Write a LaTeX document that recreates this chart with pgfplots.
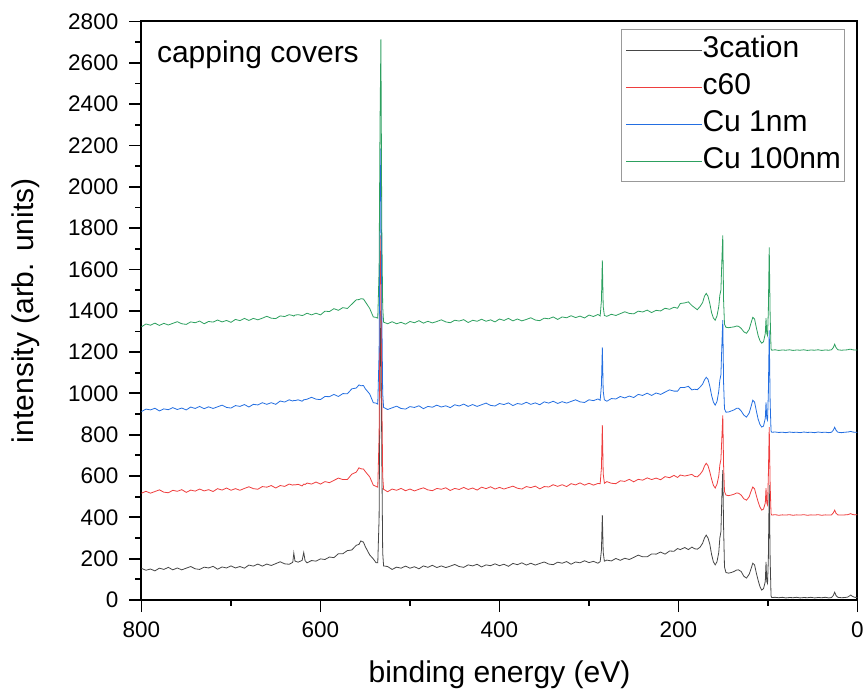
\documentclass[border=0pt]{standalone}
\usepackage{fontspec}
\setmainfont{Liberation Sans}
\usepackage{pgfplots}
\usepackage{pgfplotstable}
\pgfplotsset{compat=1.18}
\definecolor{cA}{RGB}{70,70,70}
\definecolor{cB}{RGB}{238,62,62}
\definecolor{cC}{RGB}{35,110,225}
\definecolor{cD}{RGB}{45,160,95}
\pgfplotstableread{
x b r bl g
800 153 517 912 1322
795 144 526 924 1336
790 150 517 920 1330
785 141 525 928 1340
780 154 533 915 1329
775 148 522 925 1339
770 158 519 921 1331
765 146 531 931 1339
760 155 526 922 1347
755 146 534 929 1337
750 154 521 920 1334
745 162 532 934 1346
740 151 527 927 1342
735 148 537 937 1350
730 159 528 926 1337
725 155 534 935 1348
720 163 525 927 1345
715 149 539 935 1355
710 160 532 943 1346
705 155 542 932 1353
700 165 531 929 1344
695 155 539 941 1358
690 162 531 937 1352
685 154 540 946 1363
680 169 548 934 1353
675 164 539 947 1363
670 174 536 944 1356
665 164 549 955 1364
660 174 546 947 1373
655 167 554 955 1364
650 176 542 947 1362
645 185 554 963 1375
640 175 550 958 1372
635 173 561 969 1381
631 182 556 963 1377
629.8 227 558 966 1374
628.5 188 557 965 1379
625 183 560 969 1381
620.5 192 552 962 1377
618.7 230 561 969 1379
617.2 190 559 970 1383
615 180 566 972 1388
610 191 561 981 1380
605 188 571 972 1388
600 199 561 970 1380
595 196 573 985 1398
590 208 568 984 1396
585 205 579 995 1410
580 224 590 985 1402
575 224 583 999 1415
570 239 583 998 1411
565 242 609 1022 1432
560 265 619 1026 1453
557 269 640 1041 1454
555 286 635 1037 1458
552 280 634 1038 1457
550 259 622 1023 1444
545 218 596 997 1411
541 199 556 955 1370
538 181 550 953 1368
536 180 546 948 1364
534.5 400 800 1200 1600
533.5 1100 1500 1900 2300
532.5 1400 1765 2186 2713
531.5 700 1000 1400 1800
530.5 230 600 1000 1420
529.5 165 536 932 1345
525 162 524 922 1337
520 148 537 930 1347
515 159 531 938 1337
510 154 540 927 1344
505 164 529 924 1335
500 154 537 936 1348
495 161 528 932 1342
490 151 536 940 1352
485 165 543 926 1340
480 158 533 937 1349
475 168 529 933 1341
470 157 540 943 1348
465 165 536 934 1356
460 157 543 940 1346
455 164 530 931 1342
450 172 540 945 1354
445 162 535 939 1350
440 158 545 948 1357
435 170 535 937 1343
430 165 542 946 1354
425 173 532 937 1349
420 160 546 945 1359
415 170 539 953 1349
410 166 548 942 1356
405 175 537 939 1346
400 166 545 951 1360
395 173 537 946 1353
390 163 544 954 1363
385 177 551 941 1351
380 171 541 951 1360
375 180 537 947 1351
370 169 549 957 1358
365 178 544 947 1366
360 169 551 954 1355
355 177 538 945 1352
350 184 549 959 1364
345 174 547 953 1361
340 171 558 962 1370
335 183 550 951 1358
330 178 558 960 1370
325 186 549 953 1366
320 173 563 961 1376
315 184 557 969 1367
310 180 567 959 1374
305 190 556 956 1365
300 181 565 969 1379
295 187 556 965 1372
290 178 564 973 1382
287.5 186 563 967 1375
286.1 240 640 1040 1450
285.1 411 846 1223 1644
284.1 230 610 1010 1420
282.8 188 565 969 1377
280 193 573 962 1373
275 189 565 975 1383
270 201 563 973 1377
265 192 577 985 1386
260 202 574 978 1395
255 196 584 987 1387
250 206 572 980 1385
245 217 584 995 1398
240 209 580 990 1394
235 209 591 1001 1403
230 223 583 990 1391
225 222 590 1002 1402
220 232 582 995 1399
215 222 597 1006 1412
210 237 592 1017 1407
205 236 603 1011 1417
201 249 593 1011 1412
198 244 605 1028 1435
193 254 600 1029 1438
189 244 604 1034 1443
185 256 608 1017 1425
182 248 598 1020 1415
179 246 596 1018 1405
176 255 608 1030 1420
173 275 625 1045 1440
171 300 648 1065 1470
169 314 662 1078 1484
167 300 650 1068 1470
165 270 620 1035 1435
163 220 585 990 1390
161 185 555 958 1365
159 170 542 943 1354
157 185 560 960 1375
155 230 600 1010 1420
153.8 300 653 1064 1475
152.6 330 680 1090 1500
151.4 520 800 1250 1660
150.5 628 894 1354 1765
149.6 350 650 1050 1450
148.6 160 525 925 1335
147 133 508 909 1320
144 130 505 910 1318
141 133 508 915 1320
138 138 512 920 1322
135 145 518 928 1326
133 146 517 928 1325
130 138 508 915 1315
127 115 490 895 1298
124 106 483 885 1291
121 125 500 905 1310
119 150 525 935 1340
117 178 547 967 1368
115 170 538 958 1360
113 130 505 915 1318
111 95 475 875 1280
109 65 450 850 1255
107 48 435 837 1243
105 55 440 842 1250
103 90 470 880 1290
102.2 184 541 957 1364
101.4 90 470 880 1290
100.5 80 460 870 1280
99.6 200 600 1000 1400
98.6 556 837 1305 1707
97.6 200 560 960 1380
96.6 20 418 818 1215
95.8 12 411 812 1209
92 13 413 813 1211
88 11 410 811 1208
84 13 412 812 1210
80 10 411 810 1209
76 12 413 813 1211
72 11 410 811 1208
68 13 412 812 1210
64 10 411 810 1209
60 12 413 813 1211
56 11 410 811 1208
52 13 412 812 1210
48 10 411 810 1209
44 12 413 813 1211
40 11 410 811 1208
36 13 412 812 1210
32 10 411 810 1209
29 12 412 812 1211
27 22 422 822 1222
25.5 38 435 836 1238
24 22 420 822 1222
22 13 412 812 1211
18 11 411 810 1209
14 12 412 812 1210
11 14 413 813 1211
9.5 18 415 814 1213
7.5 24 418 816 1214
5.5 17 414 813 1211
3 13 412 812 1210
0 12 413 812 1210
}\spectra
\begin{document}
\begin{tikzpicture}
\path[use as bounding box] (-141.5pt,-92pt) rectangle (722.5pt,600pt);
\begin{axis}[
  scale only axis,
  width=716pt, height=578.5pt,
  x dir=reverse,
  xmin=0, xmax=800, ymin=0, ymax=2800,
  xtick={0,200,...,800},
  ytick={0,200,...,2800},
  minor x tick num=1, minor y tick num=1,
  tick pos=left, tick align=outside,
  major tick length=12pt, minor tick length=6pt,
  every tick/.style={black, line width=1.8pt},
  axis line style={black, line width=2pt},
  /pgf/number format/1000 sep={},
  /pgf/number format/assume math mode=true,
  ticklabel style={font=\fontsize{22.5}{26}\selectfont, inner sep=0pt},
  xticklabel shift=10pt,
  yticklabel shift=11pt,
  xlabel={binding energy (eV)},
  ylabel={intensity (arb. units)},
  label style={font=\fontsize{30}{36}\selectfont},
  xlabel style={at={([yshift=-83pt]rel axis cs:0.5,0)}, anchor=base},
  ylabel style={at={([xshift=-108pt]rel axis cs:0,0.5)}, anchor=base},
  legend image code/.code={\draw[#1, line width=0.9pt] (0pt,0pt) -- (68pt,0pt); \path (0pt,0pt) -- (76pt,0pt);},
  legend cell align=left,
  legend style={at={(rel axis cs:1,1)}, anchor=north east, xshift=-12pt, yshift=-8pt,
    draw=gray!80, line width=1pt, font=\fontsize{30}{36}\selectfont,
    inner xsep=4pt, inner ysep=2pt, row sep=0pt,
    nodes={inner xsep=0pt, inner ysep=4pt, text height=22pt, text depth=7pt}},
  every axis plot/.append style={line width=0.8pt},
]
\addplot[cA] table[x=x, y=b] {\spectra};
\addlegendentry{3cation}
\addplot[cB] table[x=x, y=r] {\spectra};
\addlegendentry{c60}
\addplot[cC] table[x=x, y=bl] {\spectra};
\addlegendentry{Cu 1nm}
\addplot[cD] table[x=x, y=g] {\spectra};
\addlegendentry{Cu 100nm}
\node[anchor=base west, font=\fontsize{30}{36}\selectfont] at ([xshift=12pt, yshift=-41pt]rel axis cs:0,1) {capping covers};
\end{axis}
\end{tikzpicture}
\end{document}
